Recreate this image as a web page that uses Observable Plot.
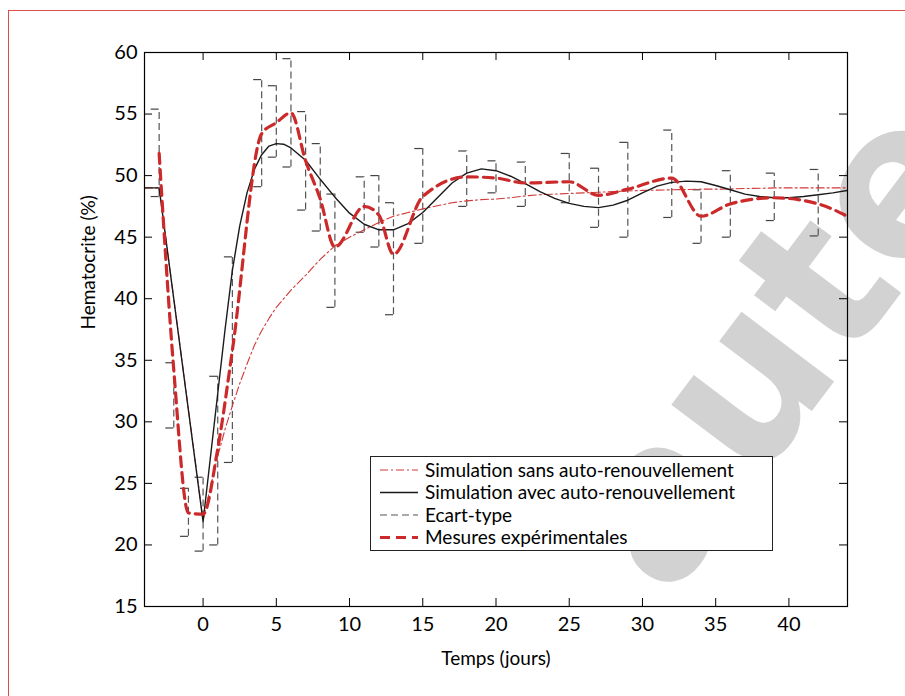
<!DOCTYPE html>
<html><head><meta charset="utf-8">
<script src="https://cdn.jsdelivr.net/npm/d3@7"></script>
<script src="https://cdn.jsdelivr.net/npm/@observablehq/plot@0.6"></script>
<style>
body{margin:0;background:#fff;}
#wrap{position:relative;width:905px;height:696px;overflow:hidden;font-family:Lato,sans-serif;}
#frame{position:absolute;left:8px;top:10px;width:1000px;height:1000px;border-left:1.5px solid #de4d4d;border-top:1.5px solid #de4d4d;}
#wm{position:absolute;left:0;top:0;}
#chart{position:absolute;left:0;top:0;}
#legend{position:absolute;left:370px;top:456px;}
</style></head><body>
<div id="wrap">
  <div id="frame"></div>
  <svg id="wm" width="905" height="696"><text transform="translate(668,602) rotate(-53)" font-family="DejaVu Sans" font-weight="bold" font-size="212" fill="#d2d2d2">auteur</text></svg>
  <div id="chart"></div>
  <div id="legend"></div>
</div>
<script>
// Simulation time grid (jours)
const timeSim = [-4,-3,0,0.5,1,1.5,2,2.5,3,3.5,4,4.5,5,5.5,6,7,8,9,10,11,12,13,14,15,16,17,18,19,20,21,22,23,24,25,26,27,28,29,30,31,32,33,34,35,36,37,38,39,40,41,42,43,44];
// Simulation sans auto-renouvellement
const simSans = [49,49,22.0,24.7,27.2,29.4,31.3,33.1,34.7,36.2,37.4,38.4,39.3,40.0,40.7,41.9,43.2,44.3,45.0,45.6,46.2,46.7,47.0,47.3,47.55,47.8,47.95,48.05,48.1,48.2,48.35,48.45,48.5,48.55,48.6,48.65,48.7,48.75,48.8,48.82,48.85,48.87,48.9,48.9,48.92,48.95,48.97,49.0,49.0,49.0,49.0,49.0,49.0];
// Simulation avec auto-renouvellement
const simAvec = [49,49,21.9,27.1,32.3,37.5,42.3,45.9,48.6,50.5,51.7,52.4,52.6,52.55,52.25,51.25,49.7,48.25,46.95,46.05,45.6,45.6,46.1,47.0,48.2,49.4,50.2,50.55,50.4,49.95,49.35,48.7,48.15,47.75,47.5,47.4,47.6,48.0,48.6,49.15,49.45,49.55,49.5,49.2,48.85,48.5,48.3,48.2,48.2,48.3,48.45,48.6,48.8];
// Ecart-type (bornes)
const errTime = [-3,-2,-1,0,1,2,4,5,6,7,8,9,11,12,13,15,18,20,22,25,27,29,32,34,36,39,42];
const errLow  = [48.3,29.5,20.7,19.5,20.0,26.7,49.1,51.5,50.7,47.2,45.5,39.3,45.4,44.2,38.7,44.5,47.5,48.6,47.5,47.8,45.8,45.0,46.6,44.5,45.0,46.35,45.1];
const errHigh = [55.4,34.8,24.6,25.5,33.7,43.4,57.8,57.3,59.5,55.2,52.6,48.5,49.9,50.0,47.8,52.2,52.0,51.2,51.1,51.8,50.6,52.7,53.7,48.85,50.4,50.2,50.5];
// Mesures expérimentales
const measTime  = [-3,-2,-1,0,1,2,4,5,6,7,8,9,11,12,13,15,18,20,22,25,27,29,32,34,36,39,42,44];
const measValue = [51.8,34.2,22.6,22.5,27.8,35.8,53.4,54.3,55.1,51.2,48.1,44.2,47.5,46.8,43.6,48.3,49.9,49.8,49.4,49.5,48.4,48.9,49.8,46.7,47.7,48.2,47.7,46.7];

const xTicks = [0,5,10,15,20,25,30,35,40];
const yTicks = [15,20,25,30,35,40,45,50,55,60];
const xLabel = "Temps (jours)";
const yLabel = "Hematocrite (%)";
const legendLabels = ["Simulation sans auto-renouvellement","Simulation avec auto-renouvellement","Ecart-type","Mesures expérimentales"];

const sim = timeSim.map((t,i)=>({t, sans:simSans[i], avec:simAvec[i]}));
const err = errTime.map((t,i)=>({t, lo:errLow[i], hi:errHigh[i]}));
const meas = measTime.map((t,i)=>({t, v:measValue[i]}));

const W=905, H=696, mL=144, mR=58, mT=52, mB=90;
const plotW=W-mL-mR, plotH=H-mT-mB, tk=8;
const FONT="Lato, sans-serif";

const styles = {
  sans:{stroke:"#d23a3a", strokeWidth:1.1, strokeDasharray:"8,3,2,3"},
  avec:{stroke:"#1a1a1a", strokeWidth:1.4},
  err:{stroke:"#555", strokeWidth:1.2, strokeDasharray:"7,4"},
  meas:{stroke:"#cc2a2a", strokeWidth:3.2, strokeDasharray:"10,6"}
};

const chart = Plot.plot({
  width:W, height:H, marginLeft:mL, marginRight:mR, marginTop:mT, marginBottom:mB,
  style:{background:"transparent", fontFamily:FONT, overflow:"visible"},
  x:{domain:[-4,44]}, y:{domain:[15,60]},
  marks:[
    Plot.ruleX(err, {x:"t", y1:"lo", y2:"hi", ...styles.err}),
    Plot.ruleY(err, {y:"hi", x1:"t", x2:"t", insetLeft:-8, stroke:"#444", strokeWidth:1.2}),
    Plot.ruleY(err, {y:"lo", x1:"t", x2:"t", insetLeft:-8, stroke:"#444", strokeWidth:1.2}),
    Plot.line(sim, {x:"t", y:"sans", clip:true, ...styles.sans}),
    Plot.line(sim, {x:"t", y:"avec", clip:true, ...styles.avec}),
    Plot.line(meas, {x:"t", y:"v", curve:"monotone-x", clip:true, ...styles.meas}),
    Plot.tickX(xTicks, {x:d=>d, insetBottom:plotH-tk, stroke:"#000"}),
    Plot.tickX(xTicks, {x:d=>d, insetTop:plotH-tk, stroke:"#000"}),
    Plot.tickY(yTicks, {y:d=>d, insetRight:plotW-tk, stroke:"#000"}),
    Plot.tickY(yTicks, {y:d=>d, insetLeft:plotW-tk, stroke:"#000"}),
    Plot.frame({stroke:"#000", strokeWidth:1.2}),
    Plot.axisX({ticks:xTicks, tickSize:0, tickPadding:10, fontSize:20, label:null}),
    Plot.axisY({ticks:yTicks, tickSize:0, tickPadding:7, fontSize:20, label:null}),
    Plot.text([xLabel], {frameAnchor:"bottom", dy:52, lineAnchor:"middle", fontSize:19, fill:"#000"}),
    Plot.text([yLabel], {frameAnchor:"left", dx:-56, rotate:-90, lineAnchor:"middle", fontSize:19, fill:"#000"})
  ]
});
document.getElementById("chart").appendChild(chart);

// Legend
const lw=403, lh=95;
const ns="http://www.w3.org/2000/svg";
const lg=document.createElementNS(ns,"svg");
lg.setAttribute("width",lw); lg.setAttribute("height",lh);
const rect=document.createElementNS(ns,"rect");
rect.setAttribute("x",0.5); rect.setAttribute("y",0.5); rect.setAttribute("width",lw-1); rect.setAttribute("height",lh-1);
rect.setAttribute("fill","#fff"); rect.setAttribute("stroke","#222"); rect.setAttribute("stroke-width",1);
lg.appendChild(rect);
const keys=["sans","avec","err","meas"];
legendLabels.forEach((lab,i)=>{
  const yy=14+i*22.5;
  const st=styles[keys[i]];
  const ln=document.createElementNS(ns,"line");
  ln.setAttribute("x1",10); ln.setAttribute("x2",48); ln.setAttribute("y1",yy); ln.setAttribute("y2",yy);
  ln.setAttribute("stroke",st.stroke); ln.setAttribute("stroke-width",st.strokeWidth);
  if(st.strokeDasharray) ln.setAttribute("stroke-dasharray",st.strokeDasharray);
  lg.appendChild(ln);
  const tx=document.createElementNS(ns,"text");
  tx.setAttribute("x",55); tx.setAttribute("y",yy); tx.setAttribute("dy","0.35em");
  tx.setAttribute("font-family",FONT); tx.setAttribute("font-size",19);
  tx.textContent=lab;
  lg.appendChild(tx);
});
document.getElementById("legend").appendChild(lg);
</script>
</body></html>
